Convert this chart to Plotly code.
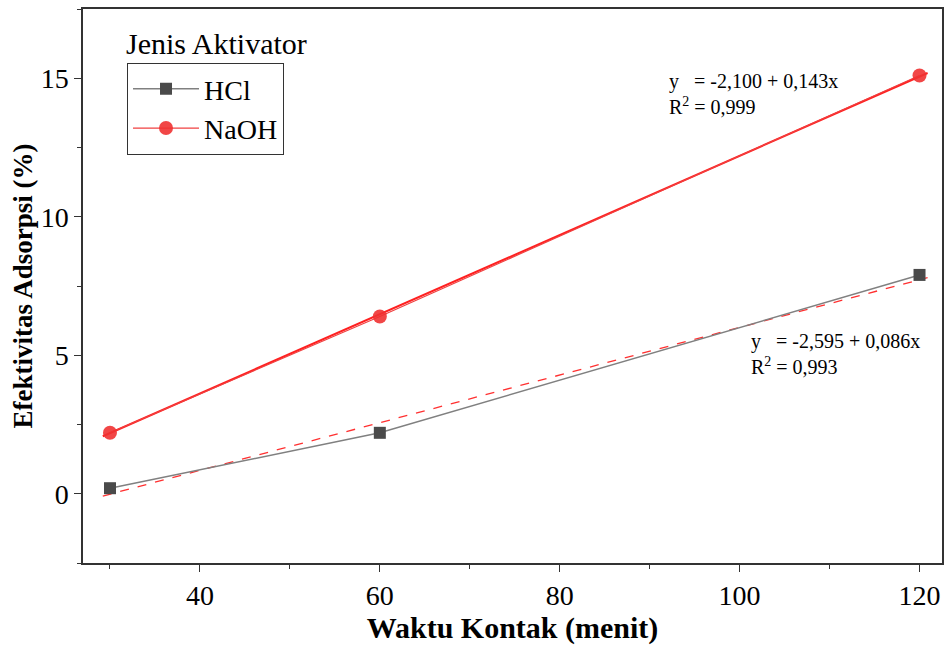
import plotly.graph_objects as go

waktu = [30, 60, 120]
hcl = [0.2, 2.2, 7.9]
naoh = [2.2, 6.4, 15.1]

fit_x = [29.2, 120.9]
fit_hcl_coef = [-2.595, 0.086]   # intercept, slope
fit_naoh_coef = [-2.100, 0.143]

x_ticks = [40, 60, 80, 100, 120]
y_ticks = [0, 5, 10, 15]

FONT = "Liberation Serif, Times New Roman, serif"


def line(coef, xs):
    return [coef[0] + coef[1] * x for x in xs]


fig = go.Figure()
fig.add_trace(go.Scatter(
    x=fit_x, y=line(fit_hcl_coef, fit_x), mode="lines", showlegend=False,
    line=dict(color="#ff3030", width=1.3, dash="dash"), hoverinfo="skip",
))
fig.add_trace(go.Scatter(
    x=fit_x, y=line(fit_naoh_coef, fit_x), mode="lines", showlegend=False,
    line=dict(color="#ff2020", width=2), hoverinfo="skip",
))
fig.add_trace(go.Scatter(
    x=waktu, y=hcl, mode="lines+markers", name="HCl",
    line=dict(color="#808080", width=1.5),
    marker=dict(symbol="square", size=12, color="#4a4a4a"),
))
fig.add_trace(go.Scatter(
    x=waktu, y=naoh, mode="lines+markers", name="NaOH",
    line=dict(color="#f04040", width=1.2),
    marker=dict(symbol="circle", size=14, color="rgba(240,50,50,0.9)"),
))

ann_font = dict(family=FONT, size=20, color="black")
fig.add_annotation(
    text="y   = -2,100 + 0,143x<br>R<sup>2</sup> = 0,999",
    xref="paper", yref="paper", x=0.680, y=0.893, xanchor="left", yanchor="top",
    align="left", showarrow=False, font=ann_font,
)
fig.add_annotation(
    text="y   = -2,595 + 0,086x<br>R<sup>2</sup> = 0,993",
    xref="paper", yref="paper", x=0.775, y=0.424, xanchor="left", yanchor="top",
    align="left", showarrow=False, font=ann_font,
)
fig.add_annotation(
    text="Jenis Aktivator",
    xref="paper", yref="paper", x=0.048, y=0.937, xanchor="left", yanchor="middle",
    showarrow=False, font=dict(family=FONT, size=30, color="black"),
)

axis_common = dict(
    showgrid=False, zeroline=False, showline=True, linecolor="#333333", linewidth=1.5,
    mirror=True, ticks="outside", ticklen=7, tickwidth=1.2, tickcolor="#333333",
    tickfont=dict(family=FONT, size=28, color="black"), automargin=False,
)
fig.update_xaxes(
    range=[27, 122.5], tickvals=x_ticks, ticktext=[str(v) for v in x_ticks],
    minor=dict(ticks="outside", ticklen=4, tickcolor="#333333", dtick=10, tick0=30),
    title=dict(text="<b>Waktu Kontak (menit)</b>", font=dict(family=FONT, size=30, color="black"), standoff=16),
    **axis_common,
)
fig.update_yaxes(
    range=[-2.5, 17.5], tickvals=y_ticks, ticktext=[str(v) for v in y_ticks],
    minor=dict(ticks="outside", ticklen=4, tickcolor="#333333", dtick=2.5, tick0=0),
    title=dict(text="<b>Efektivitas Adsorpsi (%)</b>", font=dict(family=FONT, size=27, color="black"), standoff=0),
    **axis_common,
)
fig.update_layout(
    width=944, height=645,
    margin=dict(l=83, r=2, t=9, b=82, autoexpand=False),
    paper_bgcolor="white", plot_bgcolor="white",
    showlegend=True,
    legend=dict(
        x=0.051, y=0.903, xanchor="left", yanchor="top",
        bordercolor="#333333", borderwidth=1.2, bgcolor="white",
        font=dict(family=FONT, size=28, color="black"),
        tracegroupgap=0, itemwidth=66,
    ),
)

fig.write_html(
    "out.html",
    config={"displayModeBar": False},
    post_script="document.body.style.margin='0';document.body.style.overflow='hidden';",
)
